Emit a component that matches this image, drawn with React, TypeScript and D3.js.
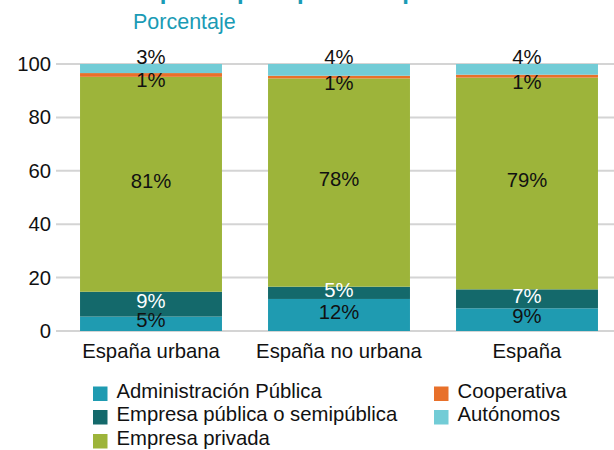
import React, { useEffect, useRef } from "react";
import * as d3 from "d3";

const categories = ["España urbana", "España no urbana", "España"];
const seriesNames = [
  "Administración Pública",
  "Empresa pública o semipública",
  "Empresa privada",
  "Cooperativa",
  "Autónomos",
];
const adminPublica = [5.4, 12.0, 8.5];
const empresaPublica = [9.3, 4.6, 7.1];
const empresaPrivada = [80.5, 78.0, 79.3];
const cooperativa = [1.4, 1.0, 1.1];
const autonomos = [3.4, 4.4, 4.0];
const yTicks = [0, 20, 40, 60, 80, 100];

const colors = ["#1f9bb1", "#14696b", "#9db43a", "#e8702a", "#72ccd6"];
const labelColors = ["#111", "#fff", "#111", "#111", "#111"];

export default function App() {
  const ref = useRef<SVGSVGElement>(null);

  useEffect(() => {
    const svg = d3.select(ref.current);
    svg.selectAll("*").remove();
    const font = "'Liberation Sans', Arial, sans-serif";
    const fs = 20.3;

    const width = 614;
    const height = 450;

    const x = d3
      .scaleBand()
      .domain(categories)
      .range([57, 621])
      .paddingInner(0.245)
      .paddingOuter(0.1225);
    const y = d3.scaleLinear().domain([0, 100]).range([331, 64]);

    // title, mostly above the visible area as in the original
    svg
      .append("text")
      .attr("x", 113)
      .attr("y", -1)
      .attr("font-family", font)
      .attr("font-weight", "bold")
      .attr("font-size", 24)
      .attr("fill", "#1a9bb5")
      .text("Ocupados por tipo de empleador");

    svg
      .append("text")
      .attr("x", 133)
      .attr("y", 29)
      .attr("font-family", font)
      .attr("font-size", 21.5)
      .attr("fill", "#1a9bb5")
      .text("Porcentaje");

    // grid
    const grid = svg.append("g");
    grid
      .selectAll("line")
      .data(yTicks)
      .enter()
      .append("line")
      .attr("x1", 56)
      .attr("x2", width)
      .attr("y1", (d) => y(d))
      .attr("y2", (d) => y(d))
      .attr("stroke", "#d4d4d4")
      .attr("stroke-width", 2);

    grid
      .selectAll("text")
      .data(yTicks)
      .enter()
      .append("text")
      .attr("x", 51)
      .attr("y", (d) => y(d) + 7)
      .attr("text-anchor", "end")
      .attr("font-family", font)
      .attr("font-size", fs)
      .attr("fill", "#111")
      .text((d) => d);

    const rows = categories.map((c, i) => ({
      cat: c,
      s0: adminPublica[i],
      s1: empresaPublica[i],
      s2: empresaPrivada[i],
      s3: cooperativa[i],
      s4: autonomos[i],
    }));
    const keys = ["s0", "s1", "s2", "s3", "s4"];
    const stacked = d3.stack<any>().keys(keys)(rows);

    stacked.forEach((layer, si) => {
      const g = svg.append("g");
      g.selectAll("rect")
        .data(layer)
        .enter()
        .append("rect")
        .attr("x", (d: any) => x(d.data.cat)!)
        .attr("width", x.bandwidth())
        .attr("y", (d) => y(d[1]))
        .attr("height", (d) => y(d[0]) - y(d[1]))
        .attr("fill", colors[si]);
    });

    stacked.forEach((layer, si) => {
      const g = svg.append("g");
      g.selectAll("text")
        .data(layer)
        .enter()
        .append("text")
        .attr("x", (d: any) => x(d.data.cat)! + x.bandwidth() / 2)
        .attr("y", (d) => {
          const top = y(d[1]);
          const bottom = y(d[0]);
          if (si === 4) return top - 0.5;
          if (si === 3) return top + 14;
          return (top + bottom) / 2 + 3.7;
        })
        .attr("text-anchor", "middle")
        .attr("font-family", font)
        .attr("font-size", fs)
        .attr("fill", labelColors[si])
        .text((d) => Math.round(d[1] - d[0]) + "%");
    });

    // x axis labels
    svg
      .append("g")
      .selectAll("text")
      .data(categories)
      .enter()
      .append("text")
      .attr("x", (d) => x(d)! + x.bandwidth() / 2)
      .attr("y", 357.5)
      .attr("text-anchor", "middle")
      .attr("font-family", font)
      .attr("font-size", fs)
      .attr("fill", "#111")
      .text((d) => d);

    // legend
    const legendPos = [
      [93, 397.5],
      [93, 421],
      [93, 445],
      [434, 397.5],
      [434, 421],
    ];
    const legend = svg
      .append("g")
      .selectAll("g")
      .data(seriesNames)
      .enter()
      .append("g")
      .attr("transform", (_, i) => `translate(${legendPos[i][0]}, ${legendPos[i][1]})`);
    legend
      .append("rect")
      .attr("x", 0)
      .attr("y", -11)
      .attr("width", 14.5)
      .attr("height", 14.5)
      .attr("fill", (_, i) => colors[i]);
    legend
      .append("text")
      .attr("x", 23.5)
      .attr("y", 0)
      .attr("font-family", font)
      .attr("font-size", fs)
      .attr("fill", "#111")
      .text((d) => d);

    svg.attr("width", width).attr("height", height);
  }, []);

  return (
    <svg
      ref={ref}
      style={{ position: "absolute", left: 0, top: 0, background: "#fff" }}
    />
  );
}
